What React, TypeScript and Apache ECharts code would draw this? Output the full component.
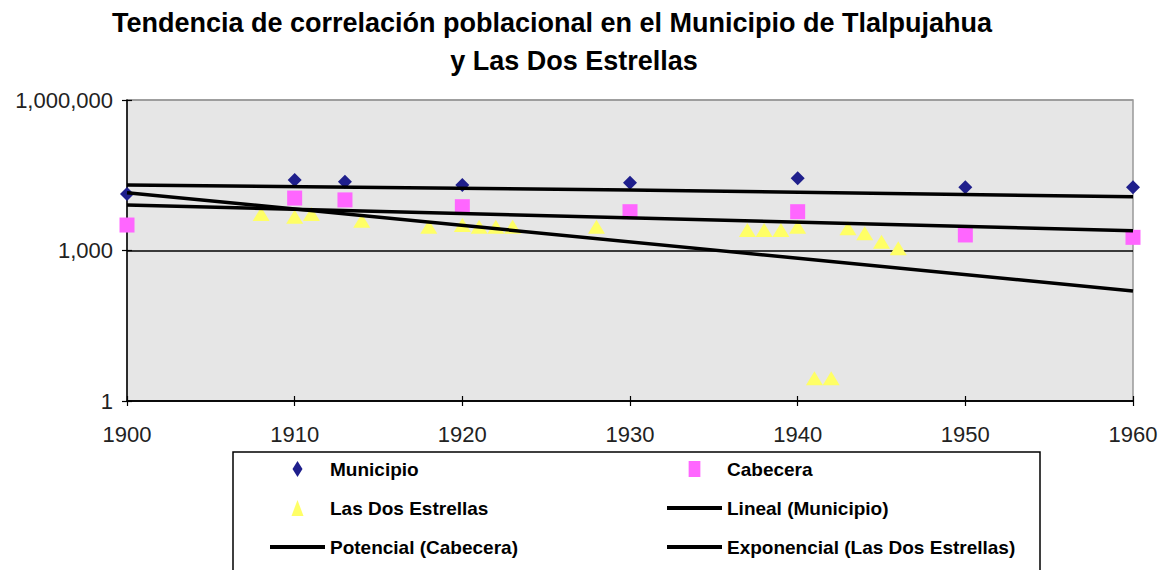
import React, { useEffect, useRef } from "react";
import * as echarts from "echarts";

// ---- data ----
const municipioYears = [1900, 1910, 1913, 1920, 1930, 1940, 1950, 1960];
const municipioValues = [13400, 25400, 23500, 20200, 22500, 27500, 18200, 18200];

const cabeceraYears = [1900, 1910, 1913, 1920, 1930, 1940, 1950, 1960];
const cabeceraValues = [3220, 11100, 10200, 7470, 5940, 5940, 2040, 1830];

const estrellasYears = [1908, 1910, 1911, 1914, 1918, 1920, 1921, 1922, 1923, 1928, 1937, 1938, 1939, 1940, 1941, 1942, 1943, 1944, 1945, 1946];
const estrellasValues = [5340, 4720, 5340, 3930, 2980, 3220, 2980, 2980, 2980, 2980, 2560, 2560, 2560, 2980, 2.84, 2.84, 2790, 2200, 1500, 1110];

const linealYears = [1900, 1930, 1960];
const linealValues = [20200, 16100, 11800];
const potencialYears = [1900, 1960];
const potencialValues = [8080, 2480];
const exponencialYears = [1900, 1960];
const exponencialValues = [14200, 156];

const seriesNames = [
  "Municipio",
  "Cabecera",
  "Las Dos Estrellas",
  "Lineal (Municipio)",
  "Potencial (Cabecera)",
  "Exponencial (Las Dos Estrellas)",
];

const titleLine1 = "Tendencia de correlación poblacional en el Municipio de Tlalpujahua";
const titleLine2 = "y Las Dos Estrellas";

const pairs = (xs: number[], ys: number[]) => xs.map((x, i) => [x, ys[i]]);

const AXIS_FONT = "'Liberation Sans', Arial, sans-serif";
const BOLD_FONT = "'Liberation Sans', Arial, sans-serif";

const legendItem = (i: number) => {
  if (i === 0) return { name: seriesNames[0], icon: "path://M5,0 L10,8 L5,16 L0,8 Z" };
  if (i === 1) return { name: seriesNames[1], icon: "path://M0,0 L11,0 L11,15 L0,15 Z" };
  if (i === 2) return { name: seriesNames[2], icon: "path://M6,0 L12,16 L0,16 Z" };
  return { name: seriesNames[i], itemStyle: { opacity: 0 } };
};

const legendBase = {
  top: 459,
  orient: "vertical",
  padding: 0,
  itemWidth: 55,
  itemHeight: 16,
  itemGap: 19,
  selectedMode: false,
  symbolKeepAspect: true,
  lineStyle: { width: 4 },
  textStyle: {
    fontFamily: BOLD_FONT,
    fontWeight: "bold",
    fontSize: 19,
    lineHeight: 20,
    color: "#000",
  },
};

export default function App() {
  const ref = useRef<HTMLDivElement>(null);
  useEffect(() => {
    if (!ref.current) return;
    const chart = echarts.init(ref.current, undefined, { renderer: "svg" });
    const fmt = (v: number) => Math.round(v).toLocaleString("en-US");
    const option: any = {
      animation: false,
      backgroundColor: "#ffffff",
      grid: {
        left: 127,
        top: 100,
        right: 32,
        bottom: 169,
        show: true,
        backgroundColor: "#E6E6E6",
        borderColor: "#999999",
        borderWidth: 1.5,
      },
      xAxis: [
        {
          type: "value",
          min: 1900,
          max: 1960,
          interval: 10,
          position: "bottom",
          axisLine: { show: true, onZero: false, lineStyle: { color: "#000", width: 1.5 } },
          axisTick: { show: true, inside: false, length: 5, lineStyle: { color: "#000", width: 1.2 } },
          axisLabel: {
            color: "#222",
            fontFamily: AXIS_FONT,
            fontSize: 22,
            margin: 22,
            formatter: (v: number) => String(Math.round(v)),
          },
          splitLine: { show: false },
        },
        {
          type: "value",
          min: 1900,
          max: 1960,
          interval: 10,
          position: "bottom",
          axisLine: { show: false },
          axisTick: { show: true, inside: true, length: 5, lineStyle: { color: "#000", width: 1.2 } },
          axisLabel: { show: false },
          splitLine: { show: false },
        },
      ],
      yAxis: [
        {
          type: "log",
          logBase: 1000,
          min: 1,
          max: 1000000,
          position: "left",
          axisLine: { show: true, onZero: false, lineStyle: { color: "#000", width: 1.5 } },
          axisTick: { show: true, inside: false, length: 5, lineStyle: { color: "#000", width: 1.2 } },
          axisLabel: { color: "#222", fontFamily: AXIS_FONT, fontSize: 22, margin: 14, formatter: fmt },
          splitLine: { show: true, lineStyle: { color: ["#000", "#000", "#999999"], width: 1.5 } },
        },
        {
          type: "log",
          logBase: 1000,
          min: 1,
          max: 1000000,
          position: "left",
          axisLine: { show: false },
          axisTick: { show: true, inside: true, length: 5, lineStyle: { color: "#000", width: 1.2 } },
          axisLabel: { show: false },
          splitLine: { show: false },
        },
      ],
      legend: [
        { ...legendBase, left: 268, data: [0, 2, 4].map(legendItem) },
        { ...legendBase, left: 665, data: [1, 3, 5].map(legendItem) },
      ],
      graphic: [
        {
          type: "text",
          x: 552,
          y: 23,
          style: {
            text: titleLine1,
            textAlign: "center",
            textVerticalAlign: "middle",
            font: `bold 27px ${BOLD_FONT}`,
            fill: "#000",
          },
        },
        {
          type: "text",
          x: 574,
          y: 61,
          style: {
            text: titleLine2,
            textAlign: "center",
            textVerticalAlign: "middle",
            font: `bold 27px ${BOLD_FONT}`,
            fill: "#000",
          },
        },
        {
          type: "rect",
          shape: { x: 233, y: 452, width: 807, height: 140 },
          style: { fill: "none", stroke: "#000", lineWidth: 1.5 },
        },
      ],
      series: [
        {
          name: seriesNames[0],
          type: "scatter",
          symbol: "diamond",
          symbolSize: 14,
          itemStyle: { color: "#1F1F8C", opacity: 1 },
          data: pairs(municipioYears, municipioValues),
        },
        {
          name: seriesNames[1],
          type: "scatter",
          symbol: "rect",
          symbolSize: 15,
          itemStyle: { color: "#FF66FF", opacity: 1 },
          data: pairs(cabeceraYears, cabeceraValues),
        },
        {
          name: seriesNames[2],
          type: "scatter",
          symbol: "triangle",
          symbolSize: [17, 14],
          itemStyle: { color: "#FFFF66", opacity: 1 },
          data: pairs(estrellasYears, estrellasValues),
        },
        {
          name: seriesNames[3],
          type: "line",
          symbol: "none",
          smooth: true,
          itemStyle: { color: "#000" },
          lineStyle: { color: "#000", width: 3.5 },
          data: pairs(linealYears, linealValues),
          z: 3,
        },
        {
          name: seriesNames[4],
          type: "line",
          symbol: "none",
          itemStyle: { color: "#000" },
          lineStyle: { color: "#000", width: 3.5 },
          data: pairs(potencialYears, potencialValues),
          z: 3,
        },
        {
          name: seriesNames[5],
          type: "line",
          symbol: "none",
          itemStyle: { color: "#000" },
          lineStyle: { color: "#000", width: 3.5 },
          data: pairs(exponencialYears, exponencialValues),
          z: 3,
        },
      ],
    };
    chart.setOption(option);
    return () => chart.dispose();
  }, []);
  return (
    <div
      ref={ref}
      style={{ position: "absolute", left: 0, top: 0, width: 1165, height: 570, background: "#fff" }}
    />
  );
}
